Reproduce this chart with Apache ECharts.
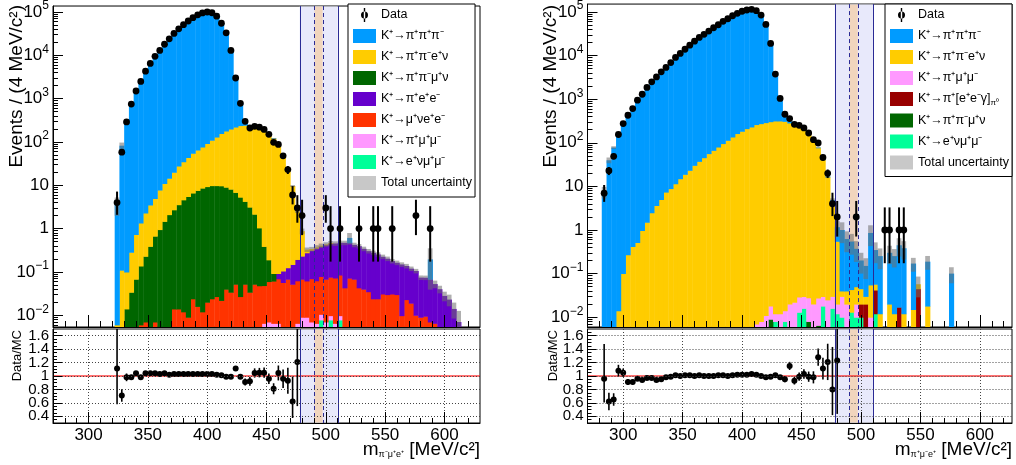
<!DOCTYPE html>
<html>
<head>
<meta charset="utf-8">
<script src="https://cdn.jsdelivr.net/npm/echarts@6.0.0/dist/echarts.min.js"></script>
<style>
html,body{margin:0;padding:0;background:#fff;}
#chart{width:1016px;height:465px;}
</style>
</head>
<body>
<div id="chart"></div>
<script>
// ================= DATA =================
const BIN_WIDTH = 4; // MeV/c^2 per bin

// axis ticks / labels
const X_MAJOR = [300, 350, 400, 450, 500, 550, 600];
const X_MINOR = [280, 290, 310, 320, 330, 340, 360, 370, 380, 390, 410, 420, 430, 440, 460, 470, 480, 490, 510, 520, 530, 540, 560, 570, 580, 590, 610, 620];
const Y_LOG_MAJOR = [0.01, 0.1, 1, 10, 100, 1000, 10000, 100000];
const Y_RATIO_MAJOR = [0.4, 0.6, 0.8, 1, 1.2, 1.4, 1.6];
const Y_RATIO_LABELS_A = [0.4, 0.8, 1.2, 1.6];
const Y_RATIO_LABELS_B = [0.6, 1, 1.4];
const Y_RATIO_MINOR = [0.35, 0.45, 0.5, 0.55, 0.65, 0.7, 0.75, 0.85, 0.9, 0.95, 1.05, 1.1, 1.15, 1.25, 1.3, 1.35, 1.45, 1.5, 1.55, 1.65];

// regions (MeV/c^2)
const CONTROL_REGION = [478, 510];
const SIGNAL_REGION = [489.9, 497.9];
const SIGNAL_FILL = [490.5, 497.3];

// axis ranges
const L_X_RANGE = [270, 630];
const R_X_RANGE = [270, 627];
const L_Y_RANGE = [0.00536, 137400];
const R_Y_RANGE = [0.00596, 152000];
const RATIO_RANGE = [0.3, 1.7];

// ---------- LEFT PANEL : m(pi- mu+ e+) ----------
const L_FIRST = 322, L_NBINS = 73;          // histogram bins 322 ... 614
const L_K3pi_from = 322;
const L_K3pi = [3.6, 82, 296, 765, 1440, 2550, 4130, 6250, 9130, 12600, 17300, 23500, 31000, 39800, 49500, 60200, 71800, 83500, 92200, 97000,
  93200, 78400, 53900, 33100, 12900, 2480, 550, 87, 3, 2, 1, 0.5, 0.3, 0.2, 0.1, 0.05, 0, 0, 0, 0,
  0, 0, 0, 0, 0, 0, 0, 0, 0, 0.14, 0, 0, 0, 0, 0, 0, 0, 0, 0, 0,
  0, 0, 0, 0, 0, 0, 0.127];
const L_Ke4_from = 322;
const L_Ke4 = [0.006, 0.11, 0.086, 0.25, 0.66, 1.21, 2.07, 3.1, 4.3, 6.85, 9.5, 12.4, 17.3, 24.5, 30.4, 38.5, 48.4, 57.4, 68.4, 82.7,
  100, 120, 147, 170, 191, 214, 234, 239, 225, 218, 209, 185, 156, 121, 84, 50, 24.6, 9.5, 2.3, 0.64,
  0.05, 0.02, 0.015, 0.01, 0.01, 0.008];
const L_Kmu4_from = 330;
const L_Kmu4 = [0.014, 0.034, 0.068, 0.131, 0.223, 0.39, 0.663, 0.95, 1.47, 2.1, 2.7, 3.55, 4.6, 5.5, 6.6, 7.6, 8.6, 9.3, 9.8, 9.8,
  9.7, 9.0, 8.1, 6.8, 5.3, 4.2, 3.1, 2.1, 0.99, 0.34, 0.13, 0.03];
const L_piee_from = 458;
const L_piee = [0.023, 0.048, 0.057, 0.097, 0.132, 0.164, 0.215, 0.248, 0.292, 0.315, 0.354, 0.378, 0.381, 0.387, 0.427, 0.398, 0.354, 0.35, 0.302, 0.267,
  0.253, 0.229, 0.193, 0.172, 0.147, 0.133, 0.139, 0.114, 0.1, 0.095, 0.065, 0.064, 0.061, 0.046, 0.04, 0.028, 0.023, 0.014, 0.007];
const L_munuee_from = 342;
const L_munuee = [0.006, 0.007, 0, 0.007, 0, 0, 0, 0.014, 0.014, 0.012, 0.009, 0.024, 0.016, 0.012, 0.02, 0.024, 0.027, 0.022, 0.04, 0.034,
  0.052, 0.027, 0.052, 0.034, 0.052, 0.048, 0.042, 0.053, 0.055, 0.063, 0.057, 0.068, 0.052, 0.056, 0.059, 0.053, 0.063, 0.056, 0.068, 0.061,
  0.066, 0.066, 0.075, 0.043, 0.072, 0.068, 0.043, 0.04, 0.035, 0.024, 0.024, 0.031, 0.03, 0.031, 0.03, 0.0098, 0.023, 0.019, 0.01, 0.009,
  0.0095, 0.007, 0.0065];
const L_pimumu_from = 446;
const L_pimumu = [0.0065, 0.007, 0.0065, 0.0065, 0, 0, 0, 0.0065, 0.009, 0.009, 0.007, 0.0065, 0.0027, 0.007, 0.002, 0.0065, 0.002];
const L_enumumu_from = 494;
const L_enumumu = [0.0078, 0, 0.0078, 0, 0.0078];
const L_relUnc = [0.45, 0.18, 0.06, 0.04,
  0.02, 0.02, 0.02, 0.02, 0.02, 0.02, 0.02, 0.02, 0.02, 0.02,
  0.02, 0.02, 0.02, 0.02, 0.02, 0.02, 0.02, 0.02, 0.02, 0.02,
  0.02, 0.02, 0.02, 0.02, 0.02, 0.02, 0.02, 0.02, 0.02, 0.02,
  0.02, 0.02, 0.02,
  0.05, 0.08, 0.15,
  0.12, 0.12, 0.12, 0.12, 0.12, 0.12, 0.12, 0.12, 0.12,
  0.3,
  0.12, 0.12, 0.12, 0.12, 0.12, 0.12, 0.12, 0.12, 0.12, 0.12, 0.12, 0.12, 0.12, 0.12, 0.12, 0.12,
  0.8, 0.2, 0.2, 0.25, 0.3, 0.4, 0.8];
const L_data_from = 322;
const L_data = [4, 58, 290, 750, 1500, 2500, 4300, 6500, 9500, 13000, 18000, 24000, 32000, 41000, 51000, 62000, 74000, 86000, 95000, 100000,
  96000, 80000, 55000, 33000, 13000, 3000, 780, 300, 210, 230, 220, 195, 150, 98, 88, 48, 23, 6, 3, 2,
  0, 0, 0, 0, 3, 1, 0, 1, 0, 0, 0, 1, 0, 0, 1, 1, 0, 0, 1, 0,
  0, 0, 0, 2, 0, 0, 1];
const L_ratio_from = 322;
const L_ratio = [1.11, 0.71, 0.98, 0.98, 1.04, 0.98, 1.04, 1.04, 1.04, 1.03, 1.04, 1.02, 1.03, 1.03, 1.03, 1.03, 1.03, 1.03, 1.03, 1.03,
  1.03, 1.02, 1.01, 0.99, 0.99, 1.11, 0.99, 0.91, 0.92, 1.045, 1.05, 1.05, 0.96, 0.81, 1.045, 0.96, 0.93, 0.62, 1.21];

// ---------- RIGHT PANEL : m(pi+ mu- e+) ----------
const R_FIRST = 282, R_NBINS = 74;          // histogram bins 282 ... 578
const R_K3pi_from = 282;
const R_K3pi = [7.5, 40, 78, 144, 263, 470, 671, 987, 1382, 1916, 2575, 3443, 4458, 5452, 6991, 9000, 11185, 13840, 17100, 21370,
  25800, 30750, 36440, 43430, 50420, 60300, 69890, 81060, 91030, 101800, 108600, 111400, 104600, 84700, 52770, 18880, 3400, 744, 166, 28,
  2, 1, 0.5, 0.4, 0.3, 0.3, 0.3, 0.3, 0.3, 0.61, 0.96, 0.58, 0.5, 0.32, 0.155, 0.12, 0.8, 0.29, 0.24, 0,
  0.28, 0.24, 0.43, 0.37, 0, 0.155, 0, 0, 0.17, 0, 0, 0, 0, 0.1];
const R_Ke4_from = 294;
const R_Ke4 = [0.014, 0.1, 0.27, 0.42, 0.52, 0.97, 1.51, 2.48, 3.66, 5.0, 7.4, 8.9, 11.5, 15, 18.9, 23.4, 30.4, 37.5, 45.6, 56.5,
  67, 80, 96, 114, 136, 163, 184, 211, 231, 262, 275, 290, 305, 317, 317, 310, 285, 286, 255, 213,
  170, 120, 77, 41, 16.5, 4.5, 0.53, 0.01, 0.02, 0.03, 0.03, 0.025, 0.01, 0.045, 0.015, 0.012, 0, 0.02, 0.012, 0,
  0.012, 0, 0.015, 0.012, 0, 0.018];
const R_pimumu_from = 410;
const R_pimumu = [0.007, 0.008, 0.011, 0.009, 0.004, 0.012, 0.006, 0.02, 0.022, 0.016, 0.014, 0.02, 0.02, 0.021, 0.012, 0.025, 0.014, 0.008, 0.02, 0.02,
  0, 0.01, 0, 0, 0.01];
const R_pieeg_from = 498;
const R_pieeg = [0.01, 0.02, 0, 0.03, 0, 0, 0, 0, 0.017, 0, 0, 0, 0.045];
const R_Kmu4_from = 422;
const R_Kmu4 = [0.009, 0, 0, 0, 0, 0, 0, 0, 0.008, 0, 0.0065];
const R_enumumu_from = 426;
const R_enumumu = [0.008, 0, 0.008, 0, 0, 0.013, 0.016, 0, 0, 0, 0.018, 0, 0.016, 0.012, 0.01, 0, 0.013, 0.01, 0.01, 0, 0, 0.012];
const R_relUnc = [0.3, 0.15, 0.07, 0.04,
  0.02, 0.02, 0.02, 0.02, 0.02, 0.02, 0.02, 0.02, 0.02, 0.02,
  0.02, 0.02, 0.02, 0.02, 0.02, 0.02, 0.02, 0.02, 0.02, 0.02,
  0.02, 0.02, 0.02, 0.02, 0.02, 0.02, 0.02, 0.02, 0.02, 0.02,
  0.02, 0.02, 0.02, 0.02, 0.02, 0.02, 0.02, 0.02, 0.02, 0.02,
  0.02, 0.02, 0.02,
  0.04, 0.1, 0.4,
  0.5, 0.5, 0.5, 0.5, 0.5, 0.5, 0.5, 0.5, 0.5,
  0, 0.45, 0.45, 0.45, 0.45, 0, 0.35, 0.5, 0, 0.35, 0, 0, 0, 0, 0.4];
const R_data_from = 282;
const R_data = [7, 23, 49, 155, 276, 428, 611, 948, 1300, 1860, 2500, 3240, 4240, 5350, 6930, 9100, 11200, 14000, 17300, 21400,
  26100, 30800, 36500, 43500, 51000, 61000, 70000, 82000, 93000, 104000, 111000, 115000, 107000, 85000, 52000, 19000, 3760, 1040, 452, 360,
  266, 252, 219, 168, 118, 99, 46, 20, 4, 2, 0, 0, 0, 2, 0, 0, 0, 0, 0, 1,
  1, 0, 1, 1];
const R_ratio_from = 282;
const R_ratio = [0.96, 0.62, 0.65, 1.08, 1.05, 0.91, 0.91, 0.96, 0.94, 0.97, 0.97, 0.94, 0.95, 0.98, 0.99, 1.01, 1.0, 1.01, 1.01, 1.0,
  1.01, 1.0, 1.0, 1.0, 1.01, 1.01, 1.0, 1.01, 1.02, 1.02, 1.02, 1.03, 1.02, 1.0, 0.98, 0.99, 1.01, 0.98, 0.95, 1.15,
  0.93, 0.99, 1.03, 0.99, 0.98, 1.28, 1.11, 1.21, 0.8, 1.23];

// Poisson 68% intervals for small counts
const POIS_LO = [0, 0.173, 0.708, 1.367, 2.086, 2.840, 3.620, 4.419, 5.232, 6.057, 6.891];
const POIS_HI = [1.841, 3.300, 4.638, 5.918, 7.163, 8.382, 9.584, 10.77, 11.95, 13.11, 14.27];

// ================= STYLE =================
const FONT = '"Liberation Sans", Arial, Helvetica, sans-serif';
const COL = {
  k3pi: '#009bff', ke4: '#ffcc00', kmu4: '#006600', piee: '#6600cc', munuee: '#ff3300',
  pimumu: '#ff99ff', enumumu: '#00ff99', pieeg: '#990000', unc: 'rgba(110,110,110,0.55)'
};
const NAME = {
  k3pi: 'K⁺→π⁺π⁺π⁻', ke4: 'K⁺→π⁺π⁻e⁺ν', kmu4: 'K⁺→π⁺π⁻μ⁺ν', piee: 'K⁺→π⁺e⁺e⁻',
  munuee: 'K⁺→μ⁺νe⁺e⁻', pimumu: 'K⁺→π⁺μ⁺μ⁻', enumumu: 'K⁺→e⁺νμ⁺μ⁻', pieeg: 'K⁺→π⁺[e⁺e⁻γ]π⁰'
};
const NAVY = '#2a2a95';

function poisson(n) {
  if (n <= 10 && Number.isInteger(n)) return [POIS_LO[n], POIS_HI[n]];
  const s = Math.sqrt(n);
  return [n - s, n + s];
}

function rectRender(yMin, fill) {
  return function (params, api) {
    const x0 = api.value(0), x1 = api.value(1), lo = api.value(2), hi = api.value(3);
    if (!(hi > yMin)) return null;
    const atAxis = lo <= yMin;
    const pT = api.coord([x0, hi]);
    const pB = api.coord([x1, atAxis ? yMin : lo]);
    return {
      type: 'rect',
      shape: { x: pT[0], y: pT[1], width: pB[0] - pT[0] + 0.4, height: pB[1] - pT[1] + (atAxis ? 0 : 0.5) },
      style: { fill: fill }
    };
  };
}

function pointRender(yMin, yMax, r, lw) {
  return function (params, api) {
    const x = api.value(0), v = api.value(1), lo = api.value(2), hi = api.value(3);
    const ch = [];
    if (hi > yMin && lo < yMax) {
      const a = api.coord([x, Math.min(hi, yMax)]);
      const b = api.coord([x, Math.max(lo, yMin)]);
      ch.push({ type: 'line', shape: { x1: a[0], y1: a[1], x2: b[0], y2: b[1] }, style: { stroke: '#000', lineWidth: lw } });
    }
    if (v >= yMin && v <= yMax) {
      const p = api.coord([x, v]);
      ch.push({ type: 'circle', shape: { cx: p[0], cy: p[1], r: r }, style: { fill: '#000' } });
    }
    return { type: 'group', children: ch };
  };
}

function bandFill(ax, yRef) {
  return {
    type: 'custom', xAxisIndex: ax, yAxisIndex: ax, z: 1, silent: true,
    data: [[CONTROL_REGION[0], CONTROL_REGION[1], SIGNAL_FILL[0], SIGNAL_FILL[1], yRef]],
    encode: { x: [0, 1], y: 4 },
    renderItem: function (params, api) {
      const cs = params.coordSys, yv = api.value(4);
      const xa = api.coord([api.value(0), yv])[0], xb = api.coord([api.value(1), yv])[0];
      const xc = api.coord([api.value(2), yv])[0], xd = api.coord([api.value(3), yv])[0];
      return { type: 'group', children: [
        { type: 'rect', shape: { x: xa, y: cs.y + 0.5, width: xb - xa, height: cs.height - 1 }, style: { fill: '#e8e9fb' } },
        { type: 'rect', shape: { x: xc, y: cs.y + 0.5, width: xd - xc, height: cs.height - 1 }, style: { fill: '#f1d5bd' } }
      ] };
    }
  };
}

function bandLines(ax, yRef) {
  return {
    type: 'custom', xAxisIndex: ax, yAxisIndex: ax, z: 3, silent: true,
    data: [[CONTROL_REGION[0], CONTROL_REGION[1], SIGNAL_REGION[0], SIGNAL_REGION[1], yRef]],
    encode: { x: [0, 1], y: 4 },
    renderItem: function (params, api) {
      const cs = params.coordSys, yv = api.value(4);
      const ch = [];
      [0, 1, 2, 3].forEach(function (k) {
        const x = Math.round(api.coord([api.value(k), yv])[0]) + 0.5;
        ch.push({ type: 'line', shape: { x1: x, y1: cs.y, x2: x, y2: cs.y + cs.height },
          style: { stroke: NAVY, lineWidth: 1, lineDash: k < 2 ? null : [4, 3] } });
      });
      return { type: 'group', children: ch };
    }
  };
}

function buildTop(p) {
  const series = [];
  series.push(bandFill(p.ax, 1));
  let base = new Array(p.nBins).fill(0);
  p.comps.forEach(function (c) {
    const off = Math.round((c.from - p.first) / BIN_WIDTH);
    const top = base.slice();
    const items = [];
    c.vals.forEach(function (v, j) {
      const i = off + j;
      if (v > 0) {
        items.push([p.first + i * BIN_WIDTH, p.first + (i + 1) * BIN_WIDTH, base[i], base[i] + v]);
        top[i] = base[i] + v;
      }
    });
    base = top;
    series.push({
      type: 'custom', name: NAME[c.key], xAxisIndex: p.ax, yAxisIndex: p.ax, z: 2, silent: true,
      itemStyle: { color: COL[c.key] }, encode: { x: [0, 1], y: 3 }, data: items,
      renderItem: rectRender(p.yRange[0], COL[c.key])
    });
  });
  // total MC uncertainty band
  const uncItems = [];
  base.forEach(function (t, i) {
    const r = p.relUnc[i] || 0;
    if (t > 0 && r > 0) uncItems.push([p.first + i * BIN_WIDTH, p.first + (i + 1) * BIN_WIDTH, t * (1 - r), t * (1 + r)]);
  });
  series.push({
    type: 'custom', name: 'Total uncertainty', xAxisIndex: p.ax, yAxisIndex: p.ax, z: 2, silent: true,
    itemStyle: { color: '#c8c8c8' }, encode: { x: [0, 1], y: 3 }, data: uncItems,
    renderItem: function (params, api) {
      const x0 = api.value(0), x1 = api.value(1), lo = Math.max(api.value(2), p.yRange[0]), hi = api.value(3);
      if (!(hi > p.yRange[0])) return null;
      const a = api.coord([x0, hi]), b = api.coord([x1, lo]);
      return { type: 'rect', shape: { x: a[0], y: a[1], width: b[0] - a[0], height: Math.max(b[1] - a[1], 0.6) }, style: { fill: COL.unc } };
    }
  });
  series.push(bandLines(p.ax, 1));
  // data points
  const dItems = [];
  p.data.forEach(function (n, j) {
    if (n > 0) {
      const c = p.dataFrom + (j + 0.5) * BIN_WIDTH;
      const e = poisson(n);
      dItems.push([c, n, e[0], e[1]]);
    }
  });
  series.push({
    type: 'custom', name: 'Data', xAxisIndex: p.ax, yAxisIndex: p.ax, z: 4, silent: true,
    itemStyle: { color: '#000' }, encode: { x: 0, y: 1 }, data: dItems,
    renderItem: pointRender(p.yRange[0], p.yRange[1], 3.4, 2)
  });
  return series;
}

function buildRatio(p) {
  const series = [];
  series.push(bandFill(p.ax, 1));
  series.push({
    type: 'custom', xAxisIndex: p.ax, yAxisIndex: p.ax, z: 2, silent: true,
    data: [[400, 1]], encode: { x: 0, y: 1 },
    renderItem: function (params, api) {
      const cs = params.coordSys;
      const y = api.coord([api.value(0), 1])[1];
      const yU = api.coord([api.value(0), 1.012])[1], yD = api.coord([api.value(0), 0.988])[1];
      return { type: 'group', children: [
        { type: 'rect', shape: { x: cs.x, y: yU, width: cs.width, height: yD - yU }, style: { fill: 'rgba(255,130,130,0.3)' } },
        { type: 'line', shape: { x1: cs.x, y1: y, x2: cs.x + cs.width, y2: y }, style: { stroke: '#ff0000', lineWidth: 1 } }
      ] };
    }
  });
  series.push(bandLines(p.ax, 1));
  const items = [];
  p.ratio.forEach(function (r, j) {
    const edge = p.ratioFrom + j * BIN_WIDTH;
    const n = p.data[Math.round((edge - p.dataFrom) / BIN_WIDTH)];
    if (r == null || !(n > 0)) return;
    const e = poisson(n);
    items.push([edge + BIN_WIDTH / 2, r, r * e[0] / n, r * e[1] / n]);
  });
  series.push({
    type: 'custom', xAxisIndex: p.ax, yAxisIndex: p.ax, z: 4, silent: true,
    encode: { x: 0, y: 1 }, data: items,
    renderItem: pointRender(RATIO_RANGE[0], RATIO_RANGE[1], 3, 1.6)
  });
  return series;
}

// ================= AXES =================
const TICK = { color: '#000', width: 1 };
function xPair(grid, range, ratio) {
  const base = { type: 'value', gridIndex: grid, min: range[0], max: range[1], position: 'bottom', z: 10 };
  return [
    Object.assign({}, base, {
      axisLine: { show: true, onZero: false, lineStyle: { color: '#000', width: 1 } },
      axisTick: { show: true, inside: true, length: ratio ? 11 : 12, customValues: X_MAJOR, lineStyle: TICK },
      axisLabel: ratio ? { show: true, customValues: X_MAJOR, fontSize: 17, fontFamily: FONT, color: '#000', margin: 4,
        showMinLabel: true, showMaxLabel: true, hideOverlap: false } : { show: false },
      splitLine: ratio ? { show: true, lineStyle: { color: '#444', width: 1, type: [1, 2] } } : { show: false }
    }),
    Object.assign({}, base, {
      axisLine: { show: false, onZero: false },
      axisTick: { show: true, inside: true, length: ratio ? 5 : 6, customValues: X_MINOR, lineStyle: TICK },
      axisLabel: { show: false }, splitLine: { show: false }
    })
  ];
}
const LOG_MINOR = [];
for (let e = -3; e <= 5; e++) for (let k = 2; k <= 9; k++) LOG_MINOR.push(k * Math.pow(10, e));
function logLabel(v) {
  const e = Math.round(Math.log10(v));
  if (e === 0) return '1';
  if (e === 1) return '10';
  return '{b|10}{s|' + (e < 0 ? '−' + (-e) : e) + '}';
}
function yPairTop(grid, range) {
  const base = { type: 'log', logBase: 10, gridIndex: grid, min: range[0], max: range[1], position: 'left', z: 10 };
  return [
    Object.assign({}, base, {
      axisLine: { show: true, onZero: false, lineStyle: { color: '#000', width: 1 } },
      axisTick: { show: true, inside: true, length: 10, customValues: Y_LOG_MAJOR, lineStyle: TICK },
      axisLabel: { show: true, customValues: Y_LOG_MAJOR, formatter: logLabel, fontSize: 17, fontFamily: FONT, color: '#000', margin: 4,
        showMinLabel: true, showMaxLabel: true, hideOverlap: false,
        rich: { b: { fontSize: 17, fontFamily: FONT, color: '#000' }, s: { fontSize: 12, fontFamily: FONT, color: '#000', padding: [0, 0, 12, 0] } } },
      splitLine: { show: false }
    }),
    Object.assign({}, base, {
      axisLine: { show: false, onZero: false },
      axisTick: { show: true, inside: true, length: 5, customValues: LOG_MINOR, lineStyle: TICK },
      axisLabel: { show: false }, splitLine: { show: false }
    })
  ];
}
function ratioFmt(v) { return Math.abs(v - 1) < 1e-9 ? '1' : v.toFixed(1); }
function yPairRatio(grid) {
  const base = { type: 'value', gridIndex: grid, min: RATIO_RANGE[0], max: RATIO_RANGE[1], position: 'left', z: 10 };
  const lab = { show: true, formatter: ratioFmt, fontSize: 15, fontFamily: FONT, color: '#000', margin: 4,
    showMinLabel: true, showMaxLabel: true, hideOverlap: false };
  return [
    Object.assign({}, base, {
      axisLine: { show: true, onZero: false, lineStyle: { color: '#000', width: 1 } },
      axisTick: { show: true, inside: true, length: 9, customValues: Y_RATIO_MAJOR, lineStyle: TICK },
      axisLabel: Object.assign({ customValues: Y_RATIO_LABELS_A }, lab),
      splitLine: { show: true, lineStyle: { color: '#444', width: 1, type: [1, 2] } }
    }),
    Object.assign({}, base, {
      axisLine: { show: false, onZero: false },
      axisTick: { show: true, inside: true, length: 4, customValues: Y_RATIO_MINOR, lineStyle: TICK },
      axisLabel: Object.assign({ customValues: Y_RATIO_LABELS_B }, lab),
      splitLine: { show: false }
    })
  ];
}

// ================= PANELS =================
const leftTop = buildTop({
  ax: 0, first: L_FIRST, nBins: L_NBINS, yRange: L_Y_RANGE, relUnc: L_relUnc,
  comps: [
    { key: 'enumumu', from: L_enumumu_from, vals: L_enumumu },
    { key: 'pimumu', from: L_pimumu_from, vals: L_pimumu },
    { key: 'munuee', from: L_munuee_from, vals: L_munuee },
    { key: 'piee', from: L_piee_from, vals: L_piee },
    { key: 'kmu4', from: L_Kmu4_from, vals: L_Kmu4 },
    { key: 'ke4', from: L_Ke4_from, vals: L_Ke4 },
    { key: 'k3pi', from: L_K3pi_from, vals: L_K3pi }
  ],
  dataFrom: L_data_from, data: L_data
});
const leftRatio = buildRatio({ ax: 2, ratioFrom: L_ratio_from, ratio: L_ratio, dataFrom: L_data_from, data: L_data });
const rightTop = buildTop({
  ax: 4, first: R_FIRST, nBins: R_NBINS, yRange: R_Y_RANGE, relUnc: R_relUnc,
  comps: [
    { key: 'enumumu', from: R_enumumu_from, vals: R_enumumu },
    { key: 'kmu4', from: R_Kmu4_from, vals: R_Kmu4 },
    { key: 'pieeg', from: R_pieeg_from, vals: R_pieeg },
    { key: 'pimumu', from: R_pimumu_from, vals: R_pimumu },
    { key: 'ke4', from: R_Ke4_from, vals: R_Ke4 },
    { key: 'k3pi', from: R_K3pi_from, vals: R_K3pi }
  ],
  dataFrom: R_data_from, data: R_data
});
const rightRatio = buildRatio({ ax: 6, ratioFrom: R_ratio_from, ratio: R_ratio, dataFrom: R_data_from, data: R_data });

const DATA_ICON = 'path://M0,0h0.01v0.01h-0.01z M22.99,13.99h0.01v0.01h-0.01z M10.8,0h1.4v14h-1.4z M8,7a3.5,3.5 0 1 0 7,0a3.5,3.5 0 1 0 -7,0z';
function legendItems(keys) {
  const arr = [{ name: 'Data', icon: DATA_ICON }];
  keys.forEach(function (k) { arr.push({ name: NAME[k], icon: 'rect' }); });
  arr.push({ name: 'Total uncertainty', icon: 'rect', itemStyle: { color: '#c8c8c8' } });
  return arr;
}
function legend(left, textW, keys) {
  return {
    orient: 'vertical', left: left, top: 4, itemWidth: 23, itemHeight: 14, itemGap: 7,
    padding: [4, 3, 7, 5], borderColor: '#000', borderWidth: 1, backgroundColor: '#fff',
    selectedMode: false, z: 20,
    textStyle: { fontSize: 12.5, fontFamily: FONT, color: '#000', width: textW, padding: [0, 0, 0, 0],
      rich: { sub: { fontSize: 8, fontFamily: FONT, color: '#000', padding: [7, 0, 0, 0] } } },
    formatter: function (n) { return n === NAME.pieeg ? 'K⁺→π⁺[e⁺e⁻γ]{sub|π⁰}' : n; },
    data: legendItems(keys)
  };
}

const XT_RICH = { m: { fontSize: 19, fontFamily: FONT }, s: { fontSize: 9, fontFamily: FONT, padding: [9, 0, 0, 0] }, t: { fontSize: 19, fontFamily: FONT } };

const option = {
  animation: false,
  backgroundColor: '#fff',
  textStyle: { fontFamily: FONT },
  grid: [
    { left: 53, top: 4, width: 427, height: 323, show: true, borderColor: '#000', borderWidth: 1 },
    { left: 53, top: 329, width: 427, height: 94, show: true, borderColor: '#000', borderWidth: 1 },
    { left: 587.5, top: 4, width: 424.5, height: 323, show: true, borderColor: '#000', borderWidth: 1 },
    { left: 587.5, top: 329, width: 424.5, height: 94, show: true, borderColor: '#000', borderWidth: 1 }
  ],
  xAxis: [].concat(xPair(0, L_X_RANGE, false), xPair(1, L_X_RANGE, true), xPair(2, R_X_RANGE, false), xPair(3, R_X_RANGE, true)),
  yAxis: [].concat(yPairTop(0, L_Y_RANGE), yPairRatio(1), yPairTop(2, R_Y_RANGE), yPairRatio(3)),
  legend: [
    legend(348, 96, ['k3pi', 'ke4', 'kmu4', 'piee', 'munuee', 'pimumu', 'enumumu']),
    legend(885, 91, ['k3pi', 'ke4', 'pimumu', 'pieeg', 'kmu4', 'enumumu'])
  ],
  graphic: [
    { type: 'text', x: 17, y: 5, rotation: Math.PI / 2, z: 30,
      style: { text: 'Events / (4 MeV/c²)', font: '19px ' + FONT, fill: '#000', align: 'right', verticalAlign: 'middle' } },
    { type: 'text', x: 17, y: 330, rotation: Math.PI / 2, z: 30,
      style: { text: 'Data/MC', font: '13px ' + FONT, fill: '#000', align: 'right', verticalAlign: 'middle' } },
    { type: 'text', x: 480, y: 450, z: 30,
      style: { text: '{m|m}{s|π⁻μ⁺e⁺}{t| [MeV/c²]}', align: 'right', verticalAlign: 'middle', fill: '#000', rich: XT_RICH } },
    { type: 'text', x: 551, y: 5, rotation: Math.PI / 2, z: 30,
      style: { text: 'Events / (4 MeV/c²)', font: '19px ' + FONT, fill: '#000', align: 'right', verticalAlign: 'middle' } },
    { type: 'text', x: 553, y: 330, rotation: Math.PI / 2, z: 30,
      style: { text: 'Data/MC', font: '13px ' + FONT, fill: '#000', align: 'right', verticalAlign: 'middle' } },
    { type: 'text', x: 1012, y: 450, z: 30,
      style: { text: '{m|m}{s|π⁺μ⁻e⁺}{t| [MeV/c²]}', align: 'right', verticalAlign: 'middle', fill: '#000', rich: XT_RICH } }
  ],
  series: [].concat(leftTop, leftRatio, rightTop, rightRatio)
};

const chart = echarts.init(document.getElementById('chart'), null, { renderer: 'canvas' });
chart.setOption(option);
</script>
</body>
</html>
